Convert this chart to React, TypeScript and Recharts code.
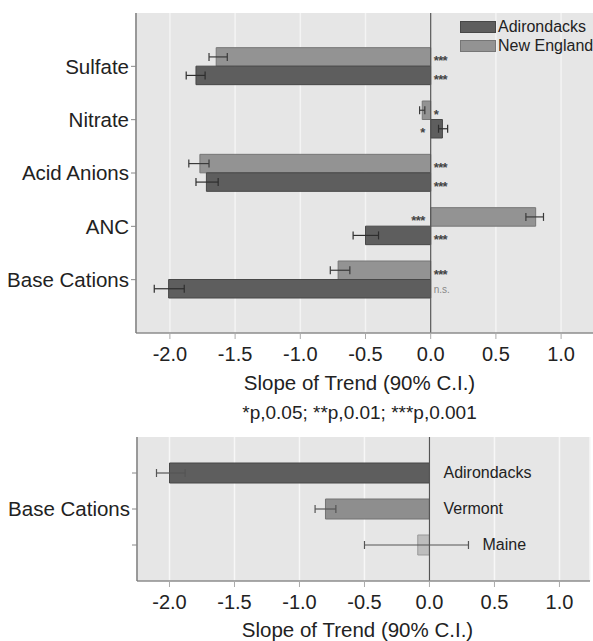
import {
  BarChart,
  Bar,
  XAxis,
  YAxis,
  CartesianGrid,
  ErrorBar,
  LabelList,
  ReferenceLine,
  Legend,
  Cell,
} from "recharts";

// top panel: trend slopes by solute
const solutes = ["Sulfate", "Nitrate", "Acid Anions", "ANC", "Base Cations"];
const adkSlope = [-1.8, 0.09, -1.72, -0.5, -2.01];
const adkLow = [-1.875, 0.06, -1.8, -0.595, -2.12];
const adkHigh = [-1.73, 0.13, -1.63, -0.4, -1.89];
const adkSig = ["***", "*", "***", "***", "n.s."];
const neSlope = [-1.645, -0.065, -1.77, 0.805, -0.71];
const neLow = [-1.7, -0.085, -1.855, 0.73, -0.77];
const neHigh = [-1.56, -0.045, -1.7, 0.865, -0.62];
const neSig = ["***", "*", "***", "***", "***"];

// bottom panel: base cations by region
const regionGroup = "Base Cations";
const regions = ["Adirondacks", "Vermont", "Maine"];
const regionSlope = [-2.0, -0.8, -0.09];
const regionLow = [-2.1, -0.88, -0.5];
const regionHigh = [-1.88, -0.72, 0.3];

const xTicks = [-2, -1.5, -1, -0.5, 0, 0.5, 1];
const axisTitle = "Slope of Trend (90% C.I.)";
const footnote = "*p,0.05; **p,0.01; ***p,0.001";

const ADK = { fill: "#5e5e5e", stroke: "#474747" };
const NE = { fill: "#939393", stroke: "#767676" };
const regionColors = [ADK, { fill: "#8e8e8e", stroke: "#737373" }, { fill: "#bdbdbd", stroke: "#999" }];
const legendItems = [
  { name: "Adirondacks", ...ADK },
  { name: "New England", ...NE },
];

const FONT = '"Liberation Sans", Arial, Helvetica, sans-serif';
const TEXT = "#222";
const BG = "#e6e6e6";
const FRAME = { stroke: "#8c8c8c", strokeWidth: 1.5 };

const topData = solutes.map((name, i) => ({
  name,
  ne: neSlope[i],
  neErr: [neSlope[i] - neLow[i], neHigh[i] - neSlope[i]],
  adk: adkSlope[i],
  adkErr: [adkSlope[i] - adkLow[i], adkHigh[i] - adkSlope[i]],
}));

const bottomData = regions.map((name, i) => ({
  name,
  slope: regionSlope[i],
  err: [regionSlope[i] - regionLow[i], regionHigh[i] - regionSlope[i]],
}));

function barBox(props: any) {
  const vb = props.viewBox && props.viewBox.width !== undefined ? props.viewBox : props;
  const left = Math.min(vb.x, vb.x + vb.width);
  const right = Math.max(vb.x, vb.x + vb.width);
  return { left, right, w: right - left, cy: vb.y + vb.height / 2 };
}

// significance mark goes on the opposite side of zero from the bar
function sigLabel(slopes: number[], marks: string[]) {
  return (props: any) => {
    const i = props.index;
    const { left, right, cy } = barBox(props);
    const neg = slopes[i] < 0;
    const ns = marks[i] === "n.s.";
    return (
      <text
        x={neg ? right + 3 : left - 6}
        y={cy}
        dy={ns ? 1 : 4}
        textAnchor={neg ? "start" : "end"}
        dominantBaseline="central"
        fontSize={ns ? 10 : 13}
        fontWeight={ns ? "normal" : "bold"}
        letterSpacing={ns ? 0 : -0.6}
        fill={ns ? "#888" : "#444"}
      >
        {marks[i]}
      </text>
    );
  };
}

function regionLabel(props: any) {
  const i = props.index;
  const { left, right, w, cy } = barBox(props);
  const zero = regionSlope[i] < 0 ? right : left;
  const ppu = w / Math.abs(regionSlope[i]);
  const start = Math.max(zero, zero + regionHigh[i] * ppu);
  return (
    <text x={start + 14} y={cy} dy={-1} dominantBaseline="central" fontSize={16} fill={TEXT}>
      {regions[i]}
    </text>
  );
}

function renderLegend() {
  return (
    <div style={{ fontFamily: FONT }}>
      {legendItems.map((it) => (
        <div key={it.name} style={{ display: "flex", alignItems: "center", height: 19 }}>
          <span
            style={{
              width: 34,
              height: 10,
              background: it.fill,
              border: `1px solid ${it.stroke}`,
              marginRight: 2,
              flexShrink: 0,
            }}
          />
          <span style={{ fontSize: 16, color: TEXT, lineHeight: "19px", whiteSpace: "nowrap" }}>{it.name}</span>
        </div>
      ))}
    </div>
  );
}

const fmtX = (v: number) => (Math.abs(v) < 1e-9 ? "0.0" : v.toFixed(1));

function TopChart() {
  const plotH = 320;
  const domain: [number, number] = [-2.26, 1.26];
  return (
    <BarChart
      width={600}
      height={400}
      layout="vertical"
      data={topData}
      margin={{ top: 13, right: 5, left: 0, bottom: 0 }}
      barGap={0}
      barSize={18.5}
    >
      <CartesianGrid fill={BG} horizontal={false} stroke="#f4f4f4" strokeWidth={1.5} />
      <XAxis
        type="number"
        domain={domain}
        allowDataOverflow
        ticks={xTicks}
        tickFormatter={fmtX}
        height={67}
        axisLine={FRAME}
        tickLine={{ stroke: "#aaa" }}
        tickSize={6}
        tickMargin={8}
        tick={{ fill: TEXT, fontSize: 20 }}
        label={{ value: axisTitle, position: "insideTop", offset: 42, dx: -6, fill: TEXT, fontSize: 20.5 }}
      />
      <XAxis
        xAxisId="top"
        orientation="top"
        type="number"
        domain={domain}
        allowDataOverflow
        height={0}
        tick={false}
        tickLine={false}
        axisLine={FRAME}
      />
      <YAxis
        type="category"
        dataKey="name"
        width={136}
        padding={{ top: plotH / 12, bottom: plotH / 12 }}
        axisLine={{ stroke: "#7a7a7a", strokeWidth: 1.5 }}
        tickLine={{ stroke: "#888" }}
        tickSize={5}
        tick={{ fill: TEXT, fontSize: 20.5 }}
      />
      <Bar dataKey="ne" name="New England" fill={NE.fill} stroke={NE.stroke} isAnimationActive={false}>
        <ErrorBar dataKey="neErr" direction="x" width={4} stroke="#3a3a3a" strokeWidth={1.2} />
        <LabelList dataKey="ne" content={sigLabel(neSlope, neSig)} />
      </Bar>
      <Bar dataKey="adk" name="Adirondacks" fill={ADK.fill} stroke={ADK.stroke} isAnimationActive={false}>
        <ErrorBar dataKey="adkErr" direction="x" width={4} stroke="#2e2e2e" strokeWidth={1.2} />
        <LabelList dataKey="adk" content={sigLabel(adkSlope, adkSig)} />
      </Bar>
      <ReferenceLine x={0} stroke="#555" strokeWidth={1.2} />
      <Legend
        layout="horizontal"
        verticalAlign="middle"
        align="center"
        content={renderLegend}
        wrapperStyle={{ top: 17, left: 460, width: 133, height: 40 }}
      />
    </BarChart>
  );
}

function BottomChart() {
  const plotH = 144;
  const domain: [number, number] = [-2.25, 1.235];
  return (
    <BarChart
      width={593}
      height={217}
      layout="vertical"
      data={bottomData}
      margin={{ top: 13, right: 3, left: 0, bottom: 0 }}
      barSize={20}
    >
      <CartesianGrid fill={BG} horizontal={false} stroke="#f7f7f7" strokeWidth={1.5} />
      <XAxis
        type="number"
        domain={domain}
        allowDataOverflow
        ticks={xTicks}
        tickFormatter={fmtX}
        height={60}
        axisLine={FRAME}
        tickLine={{ stroke: "#aaa" }}
        tickSize={6}
        tickMargin={8}
        tick={{ fill: TEXT, fontSize: 20 }}
        label={{ value: axisTitle, position: "insideTop", offset: 41, dx: -6, fill: TEXT, fontSize: 20.5 }}
      />
      <XAxis
        xAxisId="top"
        orientation="top"
        type="number"
        domain={domain}
        allowDataOverflow
        height={0}
        tick={false}
        tickLine={false}
        axisLine={FRAME}
      />
      <YAxis
        type="category"
        dataKey="name"
        width={137}
        padding={{ top: plotH / 8, bottom: plotH / 8 }}
        tickFormatter={(_v: string, i: number) => (i === 1 ? regionGroup : "")}
        axisLine={{ stroke: "#7a7a7a", strokeWidth: 1.5 }}
        tickLine={{ stroke: "#888" }}
        tickSize={5}
        tick={{ fill: TEXT, fontSize: 20.5 }}
      />
      <YAxis
        yAxisId="right"
        orientation="right"
        type="category"
        dataKey="name"
        width={0}
        tick={false}
        tickLine={false}
        axisLine={FRAME}
      />
      <Bar dataKey="slope" isAnimationActive={false}>
        {bottomData.map((d, i) => (
          <Cell key={d.name} fill={regionColors[i].fill} stroke={regionColors[i].stroke} />
        ))}
        <ErrorBar dataKey="err" direction="x" width={4} stroke="#555" strokeWidth={1.2} />
        <LabelList dataKey="slope" content={regionLabel} />
      </Bar>
      <ReferenceLine x={0} stroke="#555" strokeWidth={1.2} />
    </BarChart>
  );
}

export default function App() {
  return (
    <div
      style={{
        position: "absolute",
        left: 0,
        top: 0,
        width: 593,
        height: 641,
        overflow: "hidden",
        background: "#fff",
        fontFamily: FONT,
      }}
    >
      <div style={{ position: "absolute", left: 0, top: 0 }}>
        <TopChart />
      </div>
      <div
        style={{
          position: "absolute",
          left: 136,
          width: 447,
          top: 401,
          textAlign: "center",
          fontSize: 19,
          color: TEXT,
          lineHeight: "24px",
        }}
      >
        {footnote}
      </div>
      <div style={{ position: "absolute", left: 0, top: 424 }}>
        <BottomChart />
      </div>
    </div>
  );
}
